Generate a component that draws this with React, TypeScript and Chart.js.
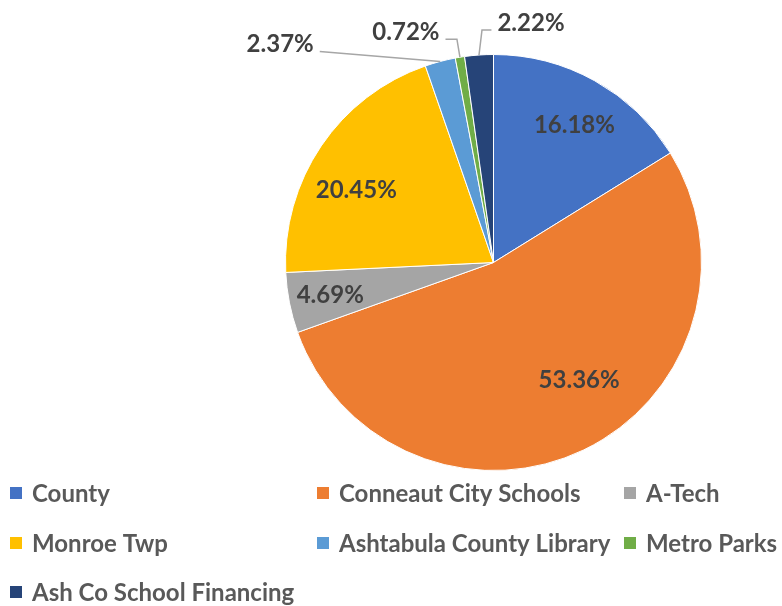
import React, { useEffect, useRef } from "react";
import { Chart, registerables } from "chart.js";

Chart.register(...registerables);

const categories = [
  "County",
  "Conneaut City Schools",
  "A-Tech",
  "Monroe Twp",
  "Ashtabula County Library",
  "Metro Parks",
  "Ash Co School Financing",
];
const shares = [16.18, 53.36, 4.69, 20.45, 2.37, 0.72, 2.22];
const sliceColors = ["#4472C4", "#ED7D31", "#A5A5A5", "#FFC000", "#5B9BD5", "#70AD47", "#264478"];

const FONT = "Lato, 'Open Sans', sans-serif";

// label offsets (relative to slice outer-edge midpoint) for small slices with callouts
const calloutOffsets: Record<number, [number, number]> = {
  4: [-160, -17],
  5: [-54, -25],
  6: [52, -32],
};
// small nudges of inside labels (best-fit placement)
const insideNudges: Record<number, [number, number]> = {
  0: [5, -1],
  1: [18, -23],
  3: [-8, 15],
};

const labelPlugin = {
  id: "pieLabels",
  afterDatasetsDraw(chart: any) {
    const ctx = chart.ctx;
    const meta = chart.getDatasetMeta(0);
    ctx.save();
    ctx.font = `bold 24px ${FONT}`;
    ctx.fillStyle = "#404040";
    ctx.textBaseline = "middle";
    meta.data.forEach((arc: any, i: number) => {
      const p = arc.getProps(["x", "y", "startAngle", "endAngle", "outerRadius"], true);
      const mid = (p.startAngle + p.endAngle) / 2;
      const text = shares[i].toFixed(2) + "%";
      const off = calloutOffsets[i];
      if (!off) {
        const frac = shares[i] < 6 ? 0.8 : 0.75;
        const n = insideNudges[i] || [0, 0];
        const lx = p.x + Math.cos(mid) * p.outerRadius * frac + n[0];
        const ly = p.y + Math.sin(mid) * p.outerRadius * frac + n[1];
        ctx.textAlign = "center";
        ctx.fillText(text, lx, ly);
      } else {
        const ex = p.x + Math.cos(mid) * p.outerRadius;
        const ey = p.y + Math.sin(mid) * p.outerRadius;
        const cx = ex + off[0];
        const cy = ey + off[1];
        const w = ctx.measureText(text).width;
        ctx.textAlign = "center";
        ctx.fillText(text, cx, cy);
        const dir = off[0] < 0 ? 1 : -1;
        const sx = cx + dir * (w / 2 + 6);
        const sy = cy + 7;
        ctx.strokeStyle = "#A6A6A6";
        ctx.lineWidth = 1.5;
        ctx.beginPath();
        ctx.moveTo(sx, sy);
        if (Math.abs(off[0]) < 100) {
          ctx.lineTo(ex - dir * 3, sy);
        }
        ctx.lineTo(ex, ey);
        ctx.stroke();
      }
    });
    ctx.restore();
  },
  afterDraw(chart: any) {
    const ctx = chart.ctx;
    const colX = [10, 317, 624];
    const rowY = [493, 543, 592];
    ctx.save();
    ctx.font = `bold 24px ${FONT}`;
    ctx.textBaseline = "middle";
    ctx.textAlign = "left";
    categories.forEach((name, i) => {
      const x = colX[i % 3];
      const y = rowY[Math.floor(i / 3)];
      ctx.fillStyle = sliceColors[i];
      ctx.fillRect(x, y - 6, 12, 12);
      ctx.fillStyle = "#595959";
      ctx.fillText(name, x + 22, y + 1);
    });
    ctx.restore();
  },
};

export default function App() {
  const ref = useRef<HTMLCanvasElement>(null);
  useEffect(() => {
    if (!ref.current) return;
    const chart = new Chart(ref.current, {
      type: "pie",
      data: {
        labels: categories,
        datasets: [
          {
            data: shares,
            backgroundColor: sliceColors,
            borderColor: "#ffffff",
            borderWidth: 1,
          },
        ],
      },
      options: {
        responsive: false,
        animation: false,
        layout: { padding: { left: 285, right: 80, top: 54, bottom: 135 } },
        plugins: {
          legend: { display: false },
          tooltip: { enabled: false },
        },
      },
      plugins: [labelPlugin],
    });
    return () => chart.destroy();
  }, []);
  return (
    <canvas
      ref={ref}
      width={782}
      height={606}
      style={{ position: "absolute", left: 0, top: 0, background: "#fff" }}
    />
  );
}
